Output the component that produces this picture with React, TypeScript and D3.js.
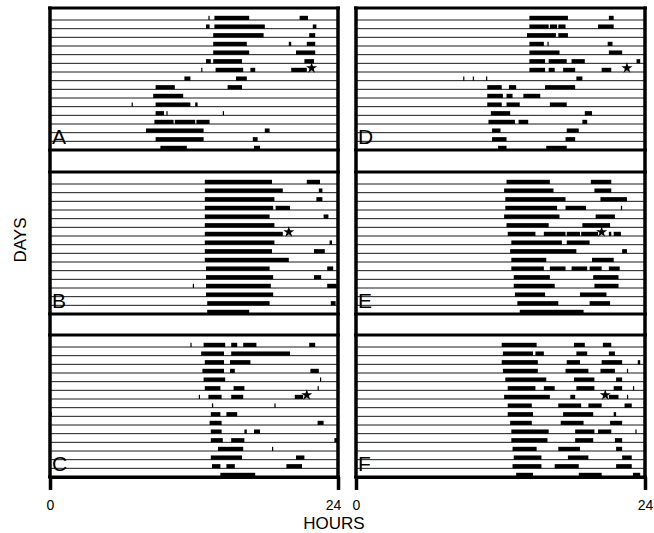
import * as d3 from "d3";
import { useEffect, useRef } from "react";

// activity bouts per day (hour start, hour end), one array per row
const panelA = [
  [[13.2, 13.3], [13.7, 16.6], [20.8, 21.5]],
  [[13.0, 13.3], [13.7, 17.9], [21.9, 22.2]],
  [[13.6, 17.8], [21.6, 22.1]],
  [[13.6, 16.4], [19.9, 20.1], [21.4, 22.1]],
  [[13.6, 16.6], [20.5, 22.1]],
  [[13.0, 13.4], [13.6, 16.0], [21.2, 22.0]],
  [[12.6, 12.7], [13.8, 16.1], [16.7, 17.1], [20.1, 21.4]],
  [[11.2, 11.7], [15.5, 16.4]],
  [[8.8, 10.4], [14.8, 16.0]],
  [[8.6, 11.1]],
  [[6.8, 6.9], [8.8, 11.7], [12.1, 12.3]],
  [[8.8, 9.5], [9.7, 9.8], [14.4, 14.5]],
  [[8.7, 10.3], [10.4, 12.1], [12.2, 13.3]],
  [[8.0, 12.8], [17.9, 18.3]],
  [[8.8, 12.8], [16.9, 17.3]],
  [[9.2, 11.4], [17.0, 17.5]],
];

const panelB = [
  [[12.9, 18.5], [21.4, 22.5]],
  [[12.9, 19.4], [22.4, 22.7]],
  [[12.9, 18.7], [22.2, 22.7]],
  [[12.9, 18.6], [18.8, 20.0]],
  [[12.9, 18.3], [22.8, 23.2]],
  [[12.9, 18.7]],
  [[12.9, 19.4]],
  [[12.9, 18.7], [23.3, 23.5]],
  [[12.9, 18.5], [22.0, 22.9]],
  [[12.9, 19.9]],
  [[13.0, 18.3], [23.1, 23.6]],
  [[13.0, 18.6], [22.0, 22.6]],
  [[11.9, 12.0], [13.0, 18.4], [23.1, 23.9]],
  [[13.0, 18.6]],
  [[13.1, 18.3], [23.4, 23.8]],
  [[13.1, 16.6]],
];

const panelC = [
  [[11.7, 11.8], [12.8, 14.6], [15.1, 15.6], [16.1, 17.2], [21.6, 22.1]],
  [[12.6, 14.5], [15.1, 20.0]],
  [[12.9, 14.5], [15.0, 16.7]],
  [[12.7, 14.5], [15.0, 15.4], [21.7, 22.4]],
  [[12.8, 14.6], [22.5, 22.6]],
  [[12.9, 14.2], [15.3, 16.2], [22.3, 22.4]],
  [[12.4, 12.5], [13.2, 14.3], [15.1, 16.1], [20.4, 21.1]],
  [[13.5, 13.6], [18.7, 18.8]],
  [[0.0, 0.15], [13.4, 14.2], [14.7, 15.6]],
  [[13.3, 14.3], [22.3, 22.8]],
  [[13.4, 14.3], [16.2, 16.4], [17.0, 17.5]],
  [[13.4, 14.4], [15.1, 16.2], [23.7, 23.95]],
  [[14.0, 16.1], [18.5, 18.6]],
  [[13.4, 16.0], [20.5, 21.2]],
  [[13.5, 14.2], [14.7, 15.4], [19.7, 21.0]],
  [[14.2, 17.1]],
];

const panelD = [
  [[14.4, 17.6], [21.0, 21.4]],
  [[14.4, 16.0], [16.1, 16.7], [16.8, 17.4], [20.1, 21.4]],
  [[14.2, 16.6], [16.8, 17.6]],
  [[14.4, 15.6], [15.9, 16.0], [20.9, 21.3]],
  [[14.4, 16.9], [21.0, 22.1]],
  [[14.4, 15.7], [16.0, 17.5], [17.9, 19.0], [23.3, 23.6]],
  [[14.4, 15.7], [16.0, 16.5], [17.2, 18.2], [20.4, 21.2]],
  [[8.9, 9.0], [9.7, 9.8], [10.8, 10.9], [18.3, 18.8]],
  [[10.9, 12.1], [12.7, 13.3], [15.7, 18.2]],
  [[10.9, 12.2], [12.5, 13.0], [13.9, 15.3]],
  [[10.9, 12.1], [12.5, 13.6], [16.1, 17.5]],
  [[11.2, 12.8], [19.0, 19.6]],
  [[11.0, 13.2], [13.5, 14.3], [18.8, 19.2]],
  [[11.3, 12.0], [17.5, 18.5]],
  [[11.3, 12.5], [17.4, 18.2]],
  [[11.8, 12.5], [15.8, 17.5]],
];

const panelE = [
  [[12.5, 16.1], [19.5, 21.2]],
  [[12.3, 16.4], [19.8, 21.2]],
  [[12.4, 17.4], [20.3, 22.5]],
  [[12.4, 16.7], [17.4, 19.1], [22.0, 22.1]],
  [[12.3, 16.9], [19.9, 21.5]],
  [[12.5, 16.0], [18.8, 21.1]],
  [[12.6, 14.9], [15.6, 17.4], [17.5, 18.6], [18.7, 20.1], [21.0, 21.2], [21.4, 22.0]],
  [[12.9, 17.1], [17.5, 19.4]],
  [[12.8, 18.3], [22.1, 22.5]],
  [[12.9, 15.8], [19.6, 21.4]],
  [[12.9, 15.6], [16.1, 17.4], [17.9, 19.2], [19.4, 20.4], [21.0, 21.9]],
  [[13.1, 16.1], [19.7, 21.8]],
  [[13.1, 16.5], [19.8, 21.8]],
  [[13.2, 15.7], [18.6, 20.8]],
  [[13.4, 16.8], [19.4, 21.1]],
  [[13.6, 18.9]],
];

const panelF = [
  [[12.1, 15.0], [18.1, 19.0], [20.5, 21.2]],
  [[12.2, 14.7], [14.9, 15.6], [18.3, 19.2], [21.0, 21.5]],
  [[12.1, 15.1], [17.5, 18.6], [20.4, 22.1], [23.4, 23.6]],
  [[12.2, 15.1], [17.4, 19.3], [20.3, 21.5], [22.5, 22.6]],
  [[12.4, 15.8], [18.1, 19.8], [21.6, 22.1]],
  [[12.6, 14.9], [15.6, 16.5], [18.3, 19.8], [21.4, 22.1], [23.0, 23.1]],
  [[12.3, 16.1], [17.8, 18.2], [21.0, 21.8], [22.5, 22.6]],
  [[12.6, 14.6], [16.8, 18.7], [19.3, 20.4], [22.3, 22.9]],
  [[12.6, 14.7], [17.2, 19.7], [21.4, 21.6]],
  [[12.8, 14.6], [17.0, 18.9], [21.1, 22.1]],
  [[12.9, 16.0], [18.2, 19.8], [20.1, 21.2], [23.2, 23.3]],
  [[12.9, 15.9], [18.2, 19.7], [21.5, 22.1]],
  [[13.0, 15.0], [16.8, 18.6], [21.6, 22.1]],
  [[13.1, 15.4], [17.6, 19.3], [22.1, 22.9]],
  [[13.0, 15.4], [16.5, 18.5], [21.6, 22.9]],
  [[13.3, 14.7], [18.5, 20.4], [23.0, 23.6]],
];

const panelLabels = ["A", "B", "C", "D", "E", "F"];
const panelData = [panelA, panelB, panelC, panelD, panelE, panelF];
// star marker: [hour, row index]
const starMarks = [[21.8, 6], [19.9, 6], [21.4, 6], [22.5, 6], [20.4, 6], [20.7, 6]];
const hourTicks = [0, 24];

const App = () => {
  const ref: any = useRef();

  useEffect(() => {
    const svg = d3.select(ref.current);
    svg.selectAll("*").remove();

    const font = "'Liberation Sans', Arial, sans-serif";
    const columns = [[50, 338], [356, 645]];
    const slotTop = [8, 172, 335];
    const panelH = 142, firstRow = 12, nRows = 16, barH = 4.2;
    const axisY = slotTop[2] + panelH;

    panelData.forEach((rows: any, p: number) => {
      const col = Math.floor(p / 3), slot = p % 3;
      const x = d3.scaleLinear().domain([0, 24]).range(columns[col]);
      const top = slotTop[slot];
      const y = d3.scaleLinear().domain([0, nRows - 1]).range([top + firstRow, top + panelH]);
      const g = svg.append("g");

      // row baselines
      g.selectAll("line.row")
        .data(d3.range(nRows))
        .enter().append("line")
        .attr("x1", x(0)).attr("x2", x(24))
        .attr("y1", (d: any) => y(d)).attr("y2", (d: any) => y(d))
        .attr("stroke", "#1a1a1a")
        .attr("stroke-width", 1);

      // activity bars
      rows.forEach((bouts: any, r: number) => {
        g.selectAll(null)
          .data(bouts)
          .enter().append("rect")
          .attr("x", (d: any) => x(d[0]))
          .attr("width", (d: any) => Math.max(1, x(d[1]) - x(d[0])))
          .attr("y", y(r) - barH)
          .attr("height", barH)
          .attr("fill", "#000");
      });

      // thick top and bottom rules
      [top, top + panelH].forEach((yy) => {
        g.append("line")
          .attr("x1", x(0) - 2).attr("x2", x(24) + 2)
          .attr("y1", yy).attr("y2", yy)
          .attr("stroke", "#000").attr("stroke-width", 3);
      });

      // star
      const s = starMarks[p];
      g.append("path")
        .attr("d", d3.symbol(d3.symbolStar, 38)())
        .attr("transform", `translate(${x(s[0])}, ${y(s[1]) - 4})`)
        .attr("fill", "#000");

      // panel letter
      g.append("text")
        .attr("x", x(0) + 2)
        .attr("y", top + 136)
        .attr("font-family", font)
        .attr("font-size", 21)
        .text(panelLabels[p]);

      // border and hour axis (drawn once per column)
      if (slot === 2) {
        const axis = svg.append("g")
          .attr("transform", `translate(0, ${axisY})`)
          .call(d3.axisBottom(x).tickValues(hourTicks).tickSizeInner(13).tickSizeOuter(0).tickPadding(10) as any);
        axis.select(".domain").attr("stroke", "#000").attr("stroke-width", 3);
        axis.selectAll(".tick line").attr("stroke", "#000").attr("stroke-width", 3.5);
        axis.selectAll(".tick text")
          .attr("font-family", font)
          .attr("font-size", 14)
          .attr("fill", "#000")
          .attr("dx", (d: any) => (col === 0 && d === 24 ? -5 : 0));

        [x(0), x(24)].forEach((xx) => {
          svg.append("line")
            .attr("x1", xx).attr("x2", xx)
            .attr("y1", slotTop[0] - 1.5).attr("y2", axisY)
            .attr("stroke", "#000").attr("stroke-width", 3.5);
        });
      }
    });

    svg.append("text")
      .attr("x", 334).attr("y", 529)
      .attr("text-anchor", "middle")
      .attr("font-family", font).attr("font-size", 17)
      .text("HOURS");

    svg.append("text")
      .attr("transform", "translate(26, 240) rotate(-90)")
      .attr("text-anchor", "middle")
      .attr("font-family", font).attr("font-size", 17)
      .text("DAYS");
  }, []);

  return (
    <svg ref={ref} width={654} height={533}
      style={{ position: "absolute", left: 0, top: 0, background: "#fff" }} />
  );
};

export default App;
